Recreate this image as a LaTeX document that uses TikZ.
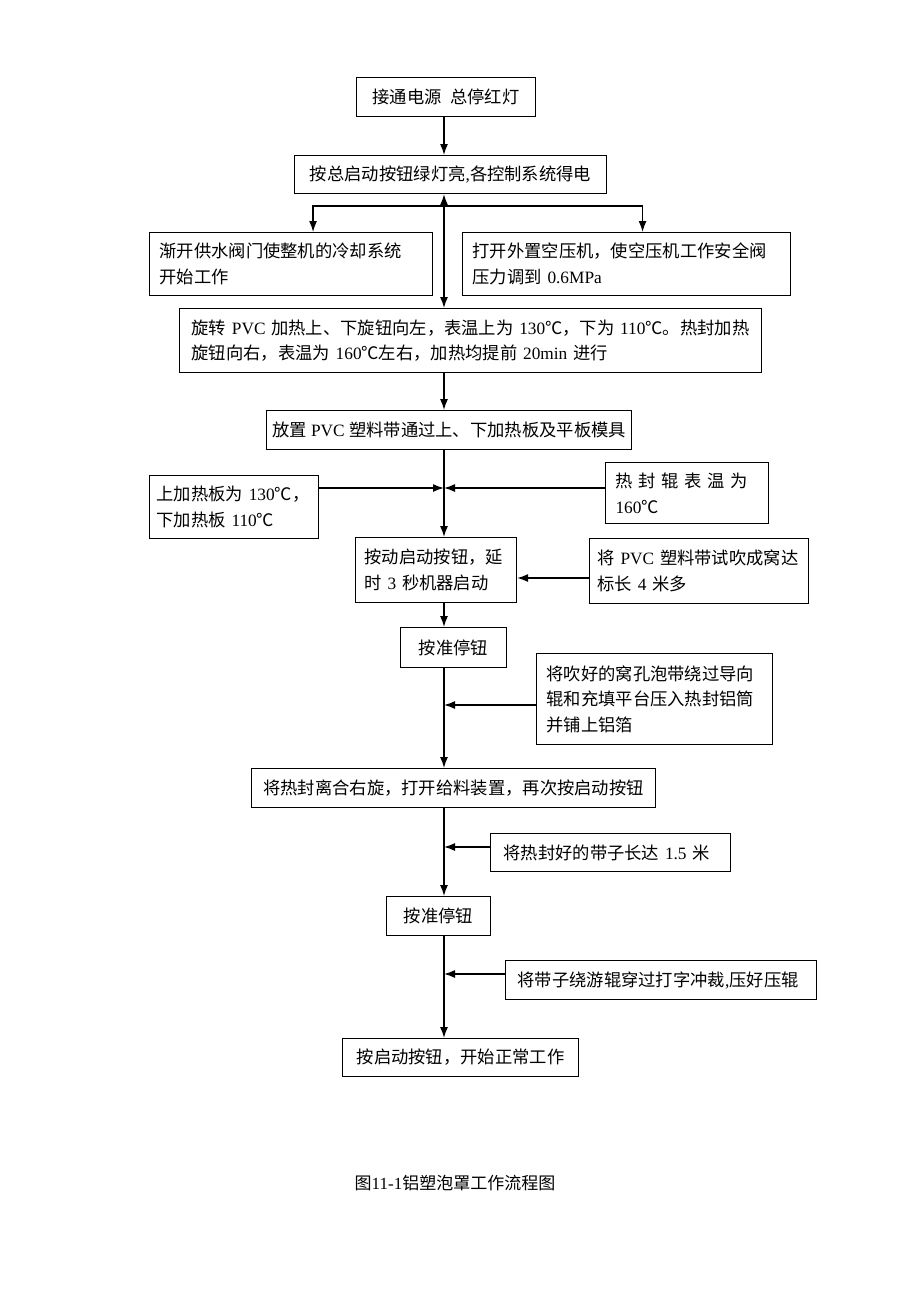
\documentclass[tikz,border=0pt]{standalone}
\usepackage{fontspec}
\setmainfont{Liberation Serif}
\newfontfamily\cjk{Noto Sans CJK SC}
\usetikzlibrary{positioning}
\usetikzlibrary{arrows.meta}
\newcommand{\en}[1]{{\rmfamily #1}}

\begin{document}
\begin{tikzpicture}
			[
				x = 1pt, y = -1pt,
				stepbox/.style = {draw, line width = 1.1pt, anchor = north west, inner ysep = 0pt, font = \cjk\fontsize{17.3pt}{25.5pt}\selectfont},
				onebox/.style = {stepbox, align = center, inner xsep = 0pt},
				textbox/.style = {stepbox, align = left, inner xsep = 10pt},
				flowline/.style = {line width = 1.4pt},
				flowarrow/.style = {flowline, -{Latex[length = 11pt, width = 8pt]}},
				flowboth/.style = {flowline, {Latex[length = 11pt, width = 8pt]}-{Latex[length = 11pt, width = 8pt]}}
			]
			\useasboundingbox (0, 0) rectangle (920, 1301);
			\coordinate (spine) at (444, 0);
			%
			\node (power) [onebox, minimum width = 179pt, minimum height = 39pt] at (356, 77) {接通电源\hspace{0.5em}总停红灯};
			\node (start) [onebox, minimum width = 312pt, minimum height = 38pt] at (294, 155) {按总启动按钮绿灯亮\en{,}各控制系统得电};
			\draw [flowarrow] (power.south -| spine) -- (start.north -| spine);
			%
			\node (cool) [textbox, text width = 263pt, minimum height = 63pt] at (149, 232) {渐开供水阀门使整机的冷却系统\\开始工作};
			\node (air) [textbox, text width = 308pt, minimum height = 63pt] at (462, 232) {打开外置空压机，使空压机工作安全阀\\压力调到\en{~0.6MPa}};
			\coordinate (fork) at (444, 206);
			\draw [flowarrow] (fork) -| ([xshift = 22pt] cool.north);
			\draw [flowarrow] (fork) -| ([xshift = 16pt] air.north);
			%
			\node (heat) [textbox, inner xsep = 12pt, text width = 558pt, minimum height = 64pt] at (179, 308) {旋转\en{~PVC~}加热上、下旋钮向左，表温上为\en{~130}℃，下为\en{~110}℃。热封加热\\旋钮向右，表温为\en{~160}℃左右，加热均提前\en{~20min~}进行};
			\draw [flowboth] (start.south -| spine) -- (heat.north -| spine);
			%
			\node (place) [onebox, minimum width = 365pt, minimum height = 39pt] at (266, 410) {放置\en{~PVC~}塑料带通过上、下加热板及平板模具};
			\draw [flowarrow] (heat.south -| spine) -- (place.north -| spine);
			%
			\node (plateT) [textbox, inner xsep = 7pt, text width = 155pt, minimum height = 63pt] at (149, 475) {上加热板为\en{~130}℃，\\下加热板\en{~110}℃};
			\node (rollT) [textbox, text width = 143pt, minimum height = 61pt] at (605, 462) {\makebox[136pt][s]{热 封 辊 表 温 为}\\\en{160}℃};
			\coordinate (meetA) at (444, 488);
			\draw [flowarrow] (plateT.east |- meetA) -- (meetA);
			\draw [flowarrow] (rollT.west |- meetA) -- (meetA);
			%
			\node (delay) [textbox, inner xsep = 9pt, text width = 143pt, minimum height = 65pt] at (355, 537) {按动启动按钮，延\\时\en{~3~}秒机器启动};
			\draw [flowarrow] (place.south -| spine) -- (delay.north -| spine);
			\node (blow) [textbox, inner xsep = 8pt, text width = 203pt, minimum height = 65pt] at (589, 538) {将\en{~PVC~}塑料带试吹成窝达\\标长\en{~4~}米多};
			\coordinate (meetB) at (444, 578);
			\draw [flowarrow] (blow.west |- meetB) -- (delay.east |- meetB);
			%
			\node (stopA) [onebox, minimum width = 106pt, minimum height = 40pt] at (400, 627) {按准停钮};
			\draw [flowarrow] (delay.south -| spine) -- (stopA.north -| spine);
			\node (wind) [textbox, text width = 216pt, minimum height = 91pt] at (536, 653) {将吹好的窝孔泡带绕过导向\\辊和充填平台压入热封铝筒\\并铺上铝箔};
			\coordinate (meetC) at (444, 705);
			\draw [flowarrow] (wind.west |- meetC) -- (meetC);
			%
			\node (feed) [onebox, minimum width = 404pt, minimum height = 39pt] at (251, 768) {将热封离合右旋，打开给料装置，再次按启动按钮};
			\draw [flowarrow] (stopA.south -| spine) -- (feed.north -| spine);
			\node (seal) [textbox, inner xsep = 13pt, text width = 214pt, minimum height = 38pt] at (490, 833) {将热封好的带子长达\en{~1.5~}米};
			\coordinate (meetD) at (444, 847);
			\draw [flowarrow] (seal.west |- meetD) -- (meetD);
			%
			\node (stopB) [onebox, minimum width = 104pt, minimum height = 39pt] at (386, 896) {按准停钮};
			\draw [flowarrow] (feed.south -| spine) -- (stopB.north -| spine);
			\node (guide) [textbox, inner xsep = 12pt, text width = 287pt, minimum height = 39pt] at (505, 960) {将带子绕游辊穿过打字冲裁\en{,}压好压辊};
			\coordinate (meetE) at (444, 974);
			\draw [flowarrow] (guide.west |- meetE) -- (meetE);
			%
			\node (run) [onebox, minimum width = 236pt, minimum height = 38pt] at (342, 1038) {按启动按钮，开始正常工作};
			\draw [flowarrow] (stopB.south -| spine) -- (run.north -| spine);
			%
			\node (caption) [font = \cjk\fontsize{17pt}{20pt}\selectfont] at (455, 1183) {图\en{11-1}铝塑泡罩工作流程图};
			%
		\end{tikzpicture}
\end{document}
